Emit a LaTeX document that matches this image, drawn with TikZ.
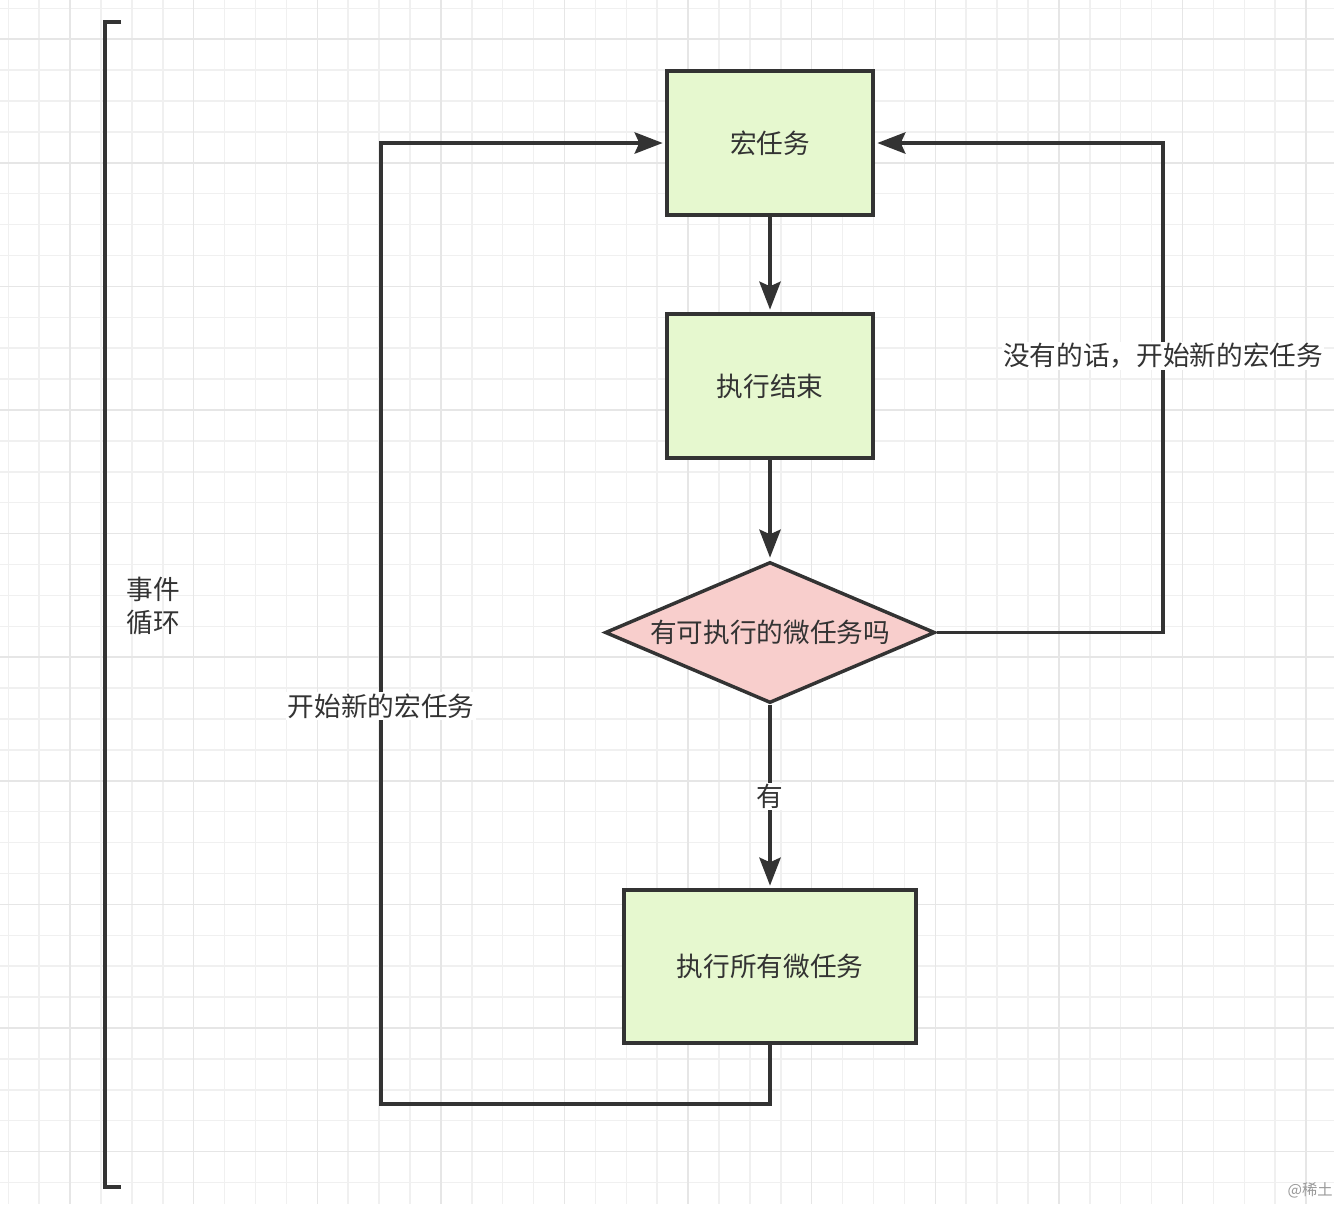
\documentclass[tikz,border=0pt]{standalone}
\usepackage{fontspec}
\setmainfont{Noto Sans CJK SC}
\usetikzlibrary{shapes.geometric,arrows.meta}
\definecolor{ink}{HTML}{333333}
\definecolor{boxfill}{HTML}{E6F8CF}
\definecolor{diafill}{HTML}{F8CECC}
\definecolor{gridminor}{HTML}{F0F0F0}
\definecolor{gridmajor}{HTML}{E6E6E6}
\tikzset{
  gridline/.style={draw=gridminor, line width=1.1pt},
  gridmaj/.style={draw=gridmajor, line width=1.1pt},
  procbox/.style={rectangle, draw=ink, fill=boxfill, line width=2.6pt, text=ink, font=\fontsize{20pt}{24pt}\selectfont, inner sep=0pt},
  decision/.style={diamond, draw=ink, fill=diafill, line width=2.6pt, text=ink, font=\fontsize{20pt}{24pt}\selectfont, inner sep=0pt, shape aspect=2.34},
  conn/.style={draw=ink, line width=2.6pt, -{Stealth[length=21pt, width=16pt, inset=3.5pt]}, shorten >=2pt},
  plainline/.style={draw=ink, line width=2.6pt},
  lbl/.style={fill=white, text=ink, font=\fontsize{20pt}{24pt}\selectfont, inner sep=1pt},
}
\begin{document}
\begin{tikzpicture}[x=0.75pt, y=-0.75pt]
\useasboundingbox (0,0) rectangle (1334,1204);
\clip (0,0) rectangle (1334,1204);
\fill[white] (0,0) rectangle (1334,1204);
% grid
\foreach \i in {0,...,43} {
  \pgfmathsetmacro\xx{8.3+30.9*\i}
  \draw[gridline] (\xx,0) -- (\xx,1204);
}
\foreach \i in {0,...,38} {
  \pgfmathsetmacro\yy{8.3+30.9*\i}
  \draw[gridline] (0,\yy) -- (1334,\yy);
}
\foreach \i in {2,6,...,42} {
  \pgfmathsetmacro\xx{8.3+30.9*\i}
  \draw[gridmaj] (\xx,0) -- (\xx,1204);
}
\foreach \i in {1,5,...,37} {
  \pgfmathsetmacro\yy{8.3+30.9*\i}
  \draw[gridmaj] (0,\yy) -- (1334,\yy);
}
% bracket
\coordinate (bt) at (121,22);
\coordinate (bb) at (121,1187);
\draw[plainline, line cap=butt] (bt) -- ++(-16,0) -- ++(0,1165) -- (bb);
\node[text=ink, font=\fontsize{20pt}{25pt}\selectfont, align=left, anchor=west] (ev) at (122,606) {事件\\循环};
% nodes
\node[procbox, minimum width=154.5pt, minimum height=108pt] (m) at (770,143) {宏任务};
\node[procbox, minimum width=154.5pt, minimum height=108pt] (e) at (770,386) {执行结束};
\node[decision, minimum width=247.5pt, minimum height=105.75pt] (d) at (770,632.5) {有可执行的微任务吗};
\node[procbox, minimum width=219pt, minimum height=114.75pt] (a) at (770,966.5) {执行所有微任务};
% turning points
\coordinate (r1) at (1163,632.5);
\coordinate (l1) at (381,1104);
% connectors
\draw[conn] (m.south) -- (e.north);
\draw[conn] (e.south) -- (d.north);
\draw[conn] (d.south) -- node[lbl] (yes) {有} (a.north);
\draw[conn] (d.east) -- (r1) |- (m.east);
\draw[conn] (a.south) |- (l1) |- (m.west);
\node[lbl] (nolbl) at (1163,356) {没有的话，开始新的宏任务};
\node[lbl] (newlbl) at (381,706) {开始新的宏任务};
% watermark
\node[text=gray!80, font=\fontsize{11.5pt}{14pt}\selectfont, anchor=east, inner sep=0pt] (wm) at (1333,1190) {@稀土};
\end{tikzpicture}
\end{document}
